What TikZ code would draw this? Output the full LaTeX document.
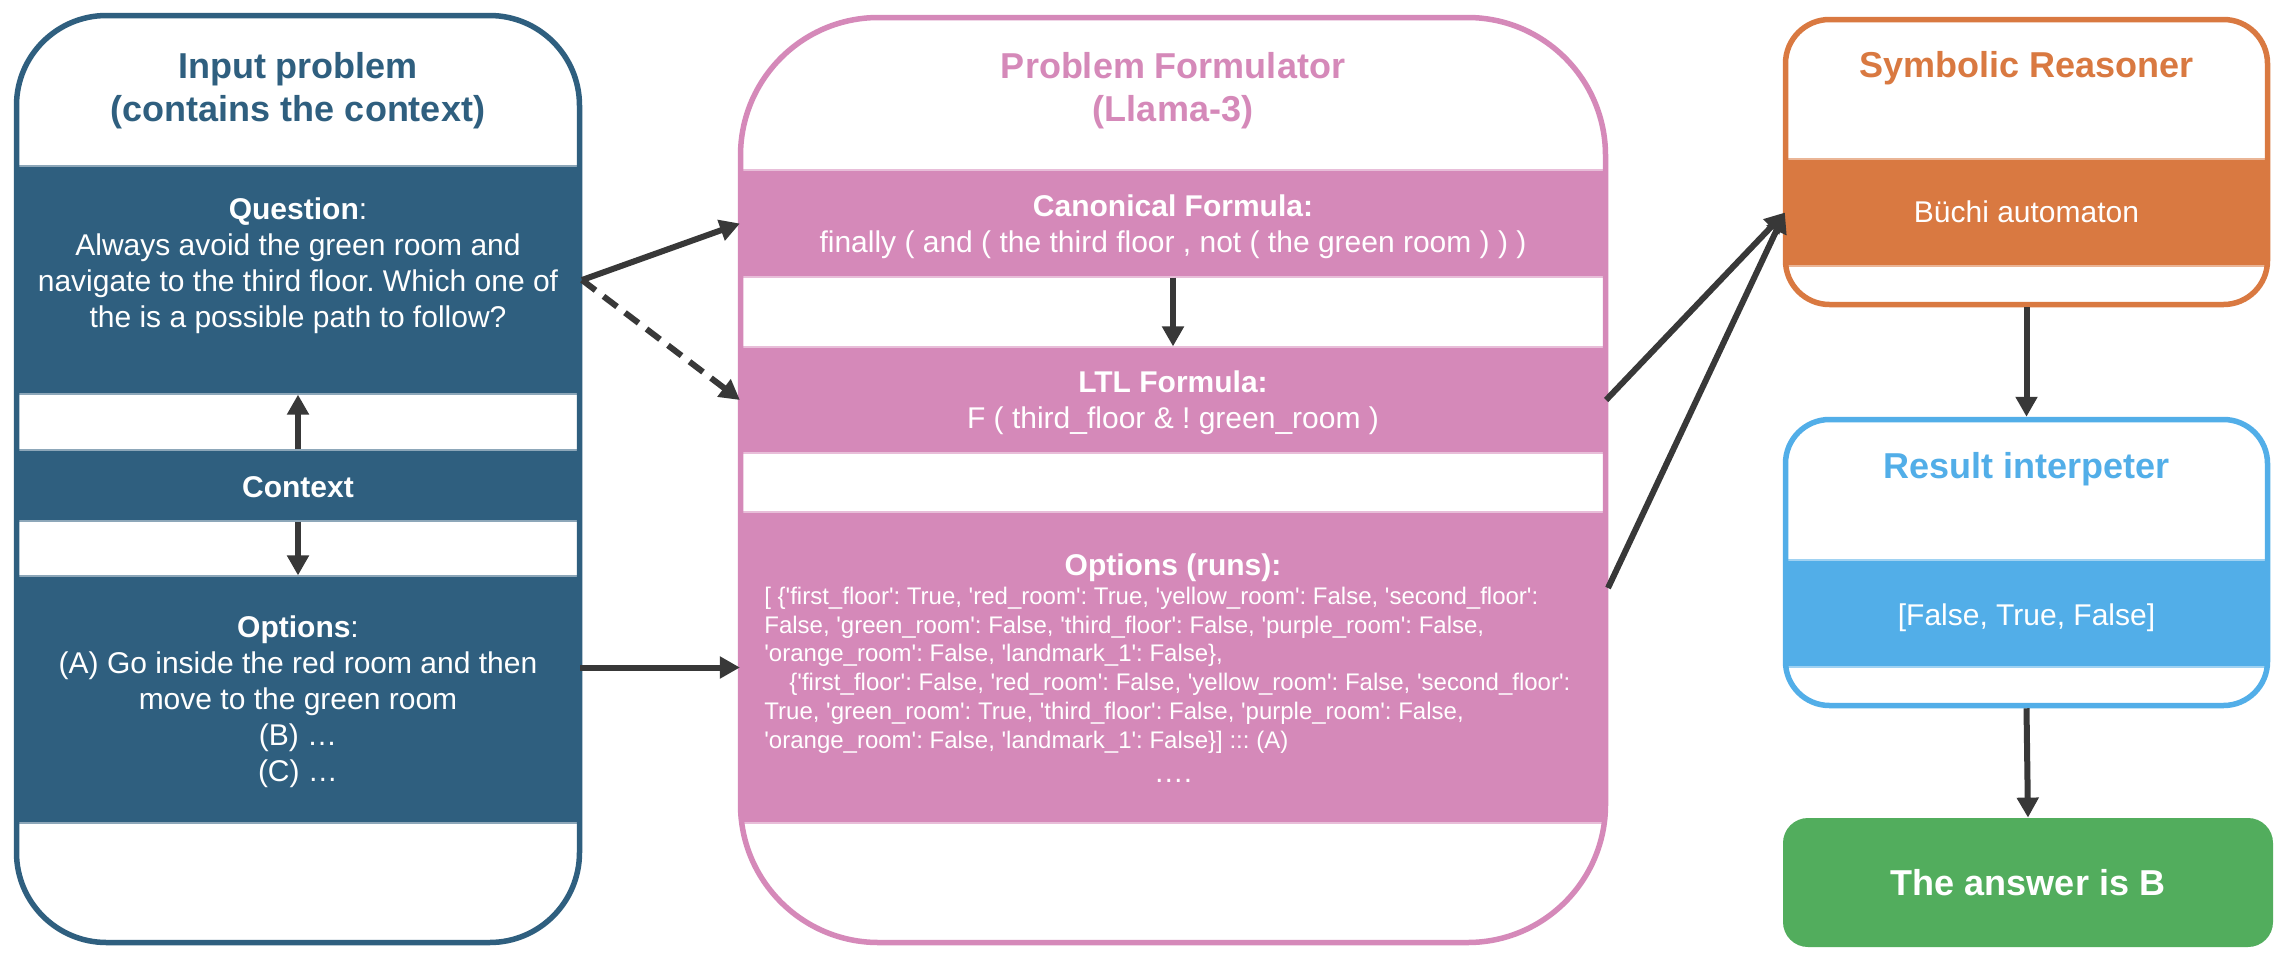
\documentclass[tikz,border=0pt]{standalone}
\usepackage{fontspec}
\setmainfont{Liberation Sans}
\usetikzlibrary{arrows.meta}
\definecolor{cblue}{RGB}{47,95,127}
\definecolor{cpink}{RGB}{213,137,185}
\definecolor{corange}{RGB}{217,121,65}
\definecolor{clight}{RGB}{82,174,232}
\definecolor{cgreen}{RGB}{82,173,93}
\definecolor{carrow}{RGB}{56,56,56}
\newcommand{\q}{\textquotesingle}
\frenchspacing
\begin{document}
\begin{tikzpicture}[x=0.5pt,y=-0.5pt,
  frame/.style={draw=#1, line width=2.75pt, inner sep=0pt},
  band/.style={fill=#1, draw=#1!55!white, line width=0.6pt, inner sep=0pt},
  ttl/.style={font=\fontsize{18pt}{21.6pt}\selectfont\bfseries, text=#1, align=center, inner sep=0pt},
  body/.style={font=\fontsize{15pt}{18pt}\selectfont, text=white, align=center, inner sep=0pt},
  runtext/.style={font=\fontsize{12pt}{14.4pt}\selectfont, text=white, align=left, inner sep=0pt},
  arr/.style={draw=carrow, line width=3pt, -{Triangle[length=10pt,width=10.5pt]}},
]
\useasboundingbox (0,0) rectangle (2282,960);
\fill[white] (0,0) rectangle (2282,960);

% ---------- Input problem ----------
\node[band=cblue, minimum width=281.5pt, minimum height=114pt] (q) at (298,280) {};
\node[band=cblue, minimum width=281.5pt, minimum height=35.5pt] (ctx) at (298,485.5) {};
\node[band=cblue, minimum width=281.5pt, minimum height=123.5pt] (opt) at (298,699.5) {};
\node[frame=cblue, minimum width=281.5pt, minimum height=463.5pt, rounded corners=45pt] (inbox) at (298,479) {};
\node[ttl=cblue] (intitle) at (298,90.3) {Input problem\\(contains the context)};
\node[body] (qtext) at (298,266.2) {\textbf{Question}:\\Always avoid the green room and\\navigate to the third floor. Which one of\\the is a possible path to follow?};
\node[body, anchor=base] (ctxtext) at (298,497) {\textbf{Context}};
\node[body] (opttext) at (298,702.2) {\textbf{Options}:\\(A) Go inside the red room and then\\move to the green room\\(B) …\\(C) …};

% ---------- Problem Formulator ----------
\node[band=cpink, minimum width=432.5pt, minimum height=53.5pt] (canon) at (1173,223.5) {};
\node[band=cpink, minimum width=432.5pt, minimum height=53pt] (ltl) at (1173,400) {};
\node[band=cpink, minimum width=432.5pt, minimum height=155.5pt] (runs) at (1173,667.5) {};
\node[frame=cpink, minimum width=432.5pt, minimum height=462.5pt, rounded corners=69pt] (pfbox) at (1173,480) {};
\node[ttl=cpink] (pftitle) at (1173,90.3) {Problem Formulator\\(Llama-3)};
\node[body] (canontext) at (1173,227.2) {\textbf{Canonical Formula:}\\finally ( and ( the third floor , not ( the green room ) ) )};
\node[body] (ltltext) at (1173,403.2) {\textbf{LTL Formula:}\\F ( third\_floor \& ! green\_room )};
\node[body, anchor=base] (runstitle) at (1173,575) {\textbf{Options (runs):}};
\node[runtext, anchor=north west] (runslist) at (764,586.5) {[ \{\q first\_floor\q: True, \q red\_room\q: True, \q yellow\_room\q: False, \q second\_floor\q:\\
False, \q green\_room\q: False, \q third\_floor\q: False, \q purple\_room\q: False,\\
\q orange\_room\q: False, \q landmark\_1\q: False\},\\
\hspace*{12.5pt}\{\q first\_floor\q: False, \q red\_room\q: False, \q yellow\_room\q: False, \q second\_floor\q:\\
True, \q green\_room\q: True, \q third\_floor\q: False, \q purple\_room\q: False,\\
\q orange\_room\q: False, \q landmark\_1\q: False\}] ::: (A)};
\node[body, anchor=base] (runsdots) at (1173,782) {….};

% ---------- Symbolic Reasoner ----------
\node[band=corange, minimum width=241pt, minimum height=53.5pt] (buchi) at (2026.5,212.5) {};
\node[frame=corange, minimum width=241pt, minimum height=142.5pt, rounded corners=22pt] (symbox) at (2026.5,162) {};
\node[ttl=corange, anchor=base] (symtitle) at (2026.5,77) {Symbolic Reasoner};
\node[body, anchor=base] (buchitext) at (2026.5,222) {Büchi automaton};

% ---------- Result interpeter ----------
\node[band=clight, minimum width=241pt, minimum height=53.5pt] (resband) at (2026.5,613.5) {};
\node[frame=clight, minimum width=241pt, minimum height=143pt, rounded corners=22pt] (resbox) at (2026.5,562.5) {};
\node[ttl=clight, anchor=base] (restitle) at (2026.5,478) {Result interpeter};
\node[body, anchor=base] (restext) at (2026.5,625) {[False, True, False]};

% ---------- Answer ----------
\node[fill=cgreen, rounded corners=12.5pt, minimum width=245pt, minimum height=64.5pt, inner sep=0pt,
      font=\fontsize{18pt}{21.6pt}\selectfont\bfseries, text=white] (ans) at (2028,882.5) {The answer is B};

% ---------- Connectors ----------
\coordinate (qout) at (582,280);
\coordinate (runsout) at (1608,588);
\draw[arr] (ctx.north) -- (q.south);
\draw[arr] (ctx.south) -- (opt.north);
\draw[arr] (qout) -- (canon.west);
\draw[arr, dash pattern=on 8.5pt off 5pt] (qout) -- (ltl.west);
\draw[arr] (runs.west -| opt.east) -- (runs.west);
\draw[arr] (canon.south) -- (ltl.north);
\draw[arr] (ltl.east) -- (buchi.west);
\draw[arr] (runsout) -- (buchi.west);
\draw[arr] (symbox.south) -- (resbox.north);
\draw[arr] (resbox.south) -- (ans.north);
\end{tikzpicture}
\end{document}
